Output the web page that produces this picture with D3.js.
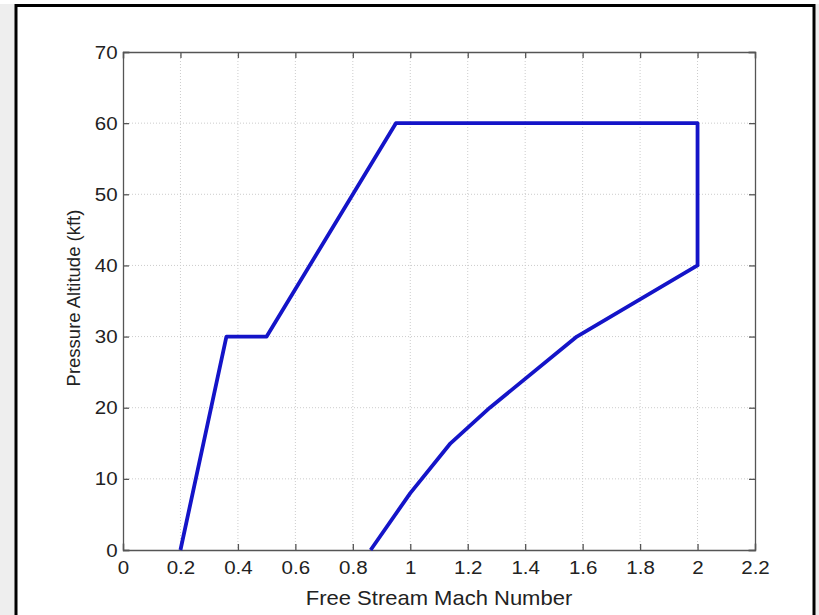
<!DOCTYPE html>
<html>
<head>
<meta charset="utf-8">
<script src="https://cdn.jsdelivr.net/npm/d3@7"></script>
<style>
  html, body { margin: 0; padding: 0; background: #ffffff; }
  svg { display: block; }
  text { font-family: "Liberation Sans", Arial, Helvetica, sans-serif; fill: #222; }
</style>
</head>
<body>
<div class="container-envelope"></div>
<script>
// flight envelope boundary (Mach, kft)
const machValues = [0.2, 0.36, 0.5, 0.95, 2.0, 2.0, 1.58, 1.277, 1.14, 1.0, 0.862];
const altitudeValues = [0, 30, 30, 60, 60, 40, 30, 20, 15, 8, 0];
const xTicks = [0, 0.2, 0.4, 0.6, 0.8, 1, 1.2, 1.4, 1.6, 1.8, 2, 2.2];
const yTicks = [0, 10, 20, 30, 40, 50, 60, 70];

const width = 819;
const height = 615;
const margin = { top: 52, right: 64, bottom: 65, left: 123 };
const innerW = width - margin.left - margin.right;
const innerH = height - margin.top - margin.bottom;
const stretchX = 1.08; // the reference text is a little wider than it is tall

const svg = d3.select('.container-envelope')
  .append('svg')
  .attr('width', width)
  .attr('height', height);

// page background and frame
svg.append('rect')
  .attr('width', width).attr('height', height)
  .attr('fill', '#eeeeee');
svg.append('rect')
  .attr('x', 0).attr('y', 0).attr('width', width).attr('height', 4)
  .attr('fill', '#ffffff');
svg.append('rect')
  .attr('x', 16).attr('y', 5.5).attr('width', 798).attr('height', height)
  .attr('fill', '#ffffff')
  .attr('stroke', '#000')
  .attr('stroke-width', 3);

const scaleX = d3.scaleLinear().domain([0, 2.2]).range([0, innerW]);
const scaleY = d3.scaleLinear().domain([0, 70]).range([innerH, 0]);

const groupMain = svg.append('g')
  .attr('transform', `translate(${margin.left}, ${margin.top})`);

// grid
const groupGrid = groupMain.append('g').attr('class', 'grid');
groupGrid.selectAll('line.gx')
  .data(xTicks.slice(1, -1))
  .enter().append('line')
  .attr('x1', d => scaleX(d)).attr('x2', d => scaleX(d))
  .attr('y1', 0).attr('y2', innerH)
  .attr('stroke', '#cccccc').attr('stroke-width', 1)
  .attr('stroke-dasharray', '1,2');
groupGrid.selectAll('line.gy')
  .data(yTicks.slice(1, -1))
  .enter().append('line')
  .attr('x1', 0).attr('x2', innerW)
  .attr('y1', d => scaleY(d)).attr('y2', d => scaleY(d))
  .attr('stroke', '#cccccc').attr('stroke-width', 1)
  .attr('stroke-dasharray', '1,2');

// axes (ticks pointing inward, mirrored on top/right)
const tickLen = 6;
const axisBottom = d3.axisBottom(scaleX).tickValues(xTicks).tickSize(-tickLen).tickPadding(11).tickFormat(d3.format('~g'));
const axisLeft = d3.axisLeft(scaleY).tickValues(yTicks).tickSize(-tickLen).tickPadding(5);
const axisTop = d3.axisTop(scaleX).tickValues(xTicks).tickSize(-tickLen).tickFormat('');
const axisRight = d3.axisRight(scaleY).tickValues(yTicks).tickSize(-tickLen).tickFormat('');

const styleAxis = g => {
  g.attr('font-size', 19);
  g.selectAll('path').attr('stroke', '#555').attr('stroke-width', 1.3);
  g.selectAll('line').attr('stroke', '#555').attr('stroke-width', 1.3);
  g.selectAll('text')
    .attr('font-size', 19)
    .attr('fill', '#222')
    .attr('transform', `scale(${stretchX}, 1)`)
    .style('font-family', '"Liberation Sans", Arial, sans-serif');
};

groupMain.append('g').attr('transform', `translate(0, ${innerH})`).call(axisBottom).call(styleAxis);
groupMain.append('g').call(axisLeft).call(styleAxis);
groupMain.append('g').call(axisTop).call(styleAxis);
groupMain.append('g').attr('transform', `translate(${innerW}, 0)`).call(axisRight).call(styleAxis);
groupMain.selectAll('.domain').attr('stroke-linecap', 'square');

// envelope line
const points = machValues.map((m, i) => [m, altitudeValues[i]]);
const generatorLine = d3.line()
  .x(d => scaleX(d[0]))
  .y(d => scaleY(d[1]));

groupMain.append('path')
  .attr('d', generatorLine(points))
  .attr('fill', 'none')
  .attr('stroke', '#1414c8')
  .attr('stroke-width', 3.8)
  .attr('stroke-linejoin', 'round');

// axis labels
const labelX = margin.left + innerW / 2;
svg.append('text')
  .attr('transform', `translate(${labelX}, 605) scale(1.1, 1)`)
  .attr('text-anchor', 'middle')
  .attr('font-size', 20)
  .text('Free Stream Mach Number');

svg.append('text')
  .attr('transform', `translate(80, ${margin.top + innerH / 2 - 3}) rotate(-90)`)
  .attr('text-anchor', 'middle')
  .attr('font-size', 18.5)
  .text('Pressure Altitude (kft)');
</script>
</body>
</html>
